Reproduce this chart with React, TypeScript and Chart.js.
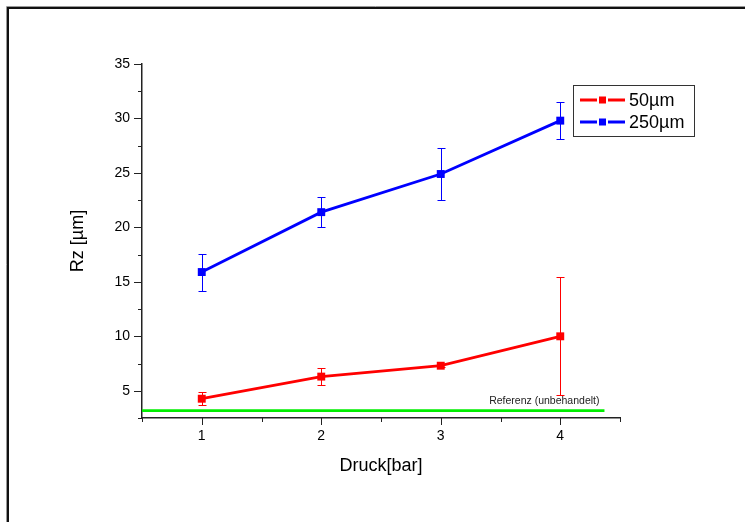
import React, { useEffect, useRef } from 'react';
import { Chart, registerables } from 'chart.js';

Chart.register(...registerables);

// ---- data ----
const pressure = [1, 2, 3, 4];
const rz50 = [4.27, 6.3, 7.3, 10.0];
const rz50Err = [0.6, 0.8, 0.15, 5.4];
const rz250 = [15.9, 21.4, 24.9, 29.8];
const rz250Err = [1.7, 1.4, 2.4, 1.7];
const seriesLabels = ['50µm', '250µm'];
const refLevel = 3.17;
const refX = [0.5, 4.37];
const refLabel = 'Referenz (unbehandelt)';
const xTitle = 'Druck[bar]';
const yTitle = 'Rz [µm]';

const RED = '#ff0000';
const BLUE = '#0000ff';
const GREEN = '#00ee00';
const FONT = "'Liberation Sans', Arial, Helvetica, sans-serif";

const errors = [rz50Err, rz250Err];

const decorPlugin = {
  id: 'decor',
  beforeDraw(chart: any) {
    const ctx = chart.ctx as CanvasRenderingContext2D;
    ctx.save();
    ctx.fillStyle = '#fff';
    ctx.fillRect(0, 0, chart.width, chart.height);
    // frame
    ctx.beginPath();
    ctx.strokeStyle = '#999';
    ctx.lineWidth = 1;
    ctx.moveTo(6.5, chart.height);
    ctx.lineTo(6.5, 6.5);
    ctx.lineTo(chart.width, 6.5);
    ctx.stroke();
    ctx.beginPath();
    ctx.strokeStyle = '#111';
    ctx.lineWidth = 2;
    ctx.moveTo(8, chart.height);
    ctx.lineTo(8, 8);
    ctx.lineTo(chart.width, 8);
    ctx.stroke();
    ctx.restore();
  },
  beforeDatasetsDraw(chart: any) {
    const ctx = chart.ctx as CanvasRenderingContext2D;
    const xs = chart.scales.x;
    const ys = chart.scales.y;
    ctx.save();
    ctx.lineWidth = 1;
    errors.forEach((errArr, di) => {
      const ds = chart.data.datasets[di];
      ctx.strokeStyle = ds.borderColor;
      ds.data.forEach((p: any, i: number) => {
        const px = Math.round(xs.getPixelForValue(p.x)) + 0.5;
        const top = Math.round(ys.getPixelForValue(p.y + errArr[i])) + 0.5;
        const bot = Math.round(ys.getPixelForValue(p.y - errArr[i])) + 0.5;
        ctx.beginPath();
        ctx.moveTo(px, top);
        ctx.lineTo(px, bot);
        ctx.moveTo(px - 4, top);
        ctx.lineTo(px + 4, top);
        ctx.moveTo(px - 4, bot);
        ctx.lineTo(px + 4, bot);
        ctx.stroke();
      });
    });
    ctx.restore();
  },
  afterDraw(chart: any) {
    const ctx = chart.ctx as CanvasRenderingContext2D;
    const xs = chart.scales.x;
    const ys = chart.scales.y;
    ctx.save();
    // tick marks
    ctx.strokeStyle = '#222';
    ctx.lineWidth = 1;
    ctx.beginPath();
    xs.ticks.forEach((t: any) => {
      const px = Math.round(xs.getPixelForValue(t.value)) + 0.5;
      const len = Number.isInteger(t.value) ? 7 : 4;
      ctx.moveTo(px, xs.top);
      ctx.lineTo(px, xs.top + len);
    });
    ys.ticks.forEach((t: any) => {
      const py = Math.round(ys.getPixelForValue(t.value)) + 0.5;
      const len = t.value % 5 === 0 ? 8 : 4;
      ctx.moveTo(ys.right, py);
      ctx.lineTo(ys.right - len, py);
    });
    ctx.stroke();

    // reference label
    ctx.fillStyle = '#222';
    ctx.font = `10.5px ${FONT}`;
    ctx.textAlign = 'right';
    ctx.textBaseline = 'middle';
    ctx.fillText(refLabel, xs.getPixelForValue(refX[1]) - 5, ys.getPixelForValue(refLevel) - 10);

    // legend
    const bx = 573.5, by = 85.5, bw = 121, bh = 51;
    ctx.fillStyle = '#fff';
    ctx.fillRect(bx, by, bw, bh);
    ctx.strokeStyle = '#333';
    ctx.lineWidth = 1;
    ctx.strokeRect(bx, by, bw, bh);
    ctx.font = `18px ${FONT}`;
    ctx.textAlign = 'left';
    ctx.textBaseline = 'middle';
    [0, 1].forEach((di) => {
      const ds = chart.data.datasets[di];
      const cy = 100 + di * 22;
      ctx.strokeStyle = ds.borderColor;
      ctx.lineWidth = 2.8;
      ctx.beginPath();
      ctx.moveTo(580, cy);
      ctx.lineTo(597, cy);
      ctx.moveTo(608, cy);
      ctx.lineTo(625, cy);
      ctx.stroke();
      ctx.fillStyle = ds.borderColor;
      ctx.fillRect(599, cy - 3.5, 7, 7);
      ctx.fillStyle = '#000';
      ctx.fillText(ds.label, 629, cy + 1);
    });
    ctx.restore();
  },
};

export default function App() {
  const ref = useRef<HTMLCanvasElement>(null);
  useEffect(() => {
    const canvas = ref.current!;
    const mk = (vals: number[]) => pressure.map((x, i) => ({ x, y: vals[i] }));
    const chart = new Chart(canvas, {
      type: 'line',
      data: {
        datasets: [
          {
            label: seriesLabels[0],
            data: mk(rz50),
            borderColor: RED,
            backgroundColor: RED,
            borderWidth: 2.8,
            pointStyle: 'rect',
            pointRadius: 5.6,
            pointBorderWidth: 0,
            tension: 0,
          },
          {
            label: seriesLabels[1],
            data: mk(rz250),
            borderColor: BLUE,
            backgroundColor: BLUE,
            borderWidth: 2.8,
            pointStyle: 'rect',
            pointRadius: 5.6,
            pointBorderWidth: 0,
            tension: 0,
          },
          {
            label: refLabel,
            data: refX.map((x) => ({ x, y: refLevel })),
            borderColor: GREEN,
            backgroundColor: GREEN,
            borderWidth: 2.8,
            pointRadius: 0,
            tension: 0,
          },
        ],
      } as any,
      options: {
        responsive: false,
        animation: false,
        devicePixelRatio: 1,
        layout: { padding: { left: 0, top: 64, right: 125, bottom: 0 } },
        plugins: { legend: { display: false }, tooltip: { enabled: false } },
        scales: {
          x: {
            type: 'linear',
            min: 0.5,
            max: 4.5,
            afterFit: (s: any) => {
              s.height = 104;
            },
            ticks: {
              stepSize: 0.5,
              autoSkip: false,
              maxRotation: 0,
              callback: (v: any) => (Number.isInteger(v) ? String(v) : ''),
              color: '#000',
              font: { family: FONT, size: 14 },
              padding: 10,
            },
            grid: { display: false, drawTicks: false },
            border: { display: true, color: '#222', width: 1.5 },
            title: {
              display: true,
              text: xTitle,
              color: '#000',
              font: { family: FONT, size: 18 },
              padding: { top: 0, bottom: 45 },
            },
          },
          y: {
            type: 'linear',
            min: 2.5,
            max: 35,
            afterFit: (s: any) => {
              s.width = 142;
            },
            ticks: {
              stepSize: 2.5,
              autoSkip: false,
              callback: (v: any) => (v % 5 === 0 ? String(v) : ''),
              color: '#000',
              font: { family: FONT, size: 14 },
              padding: 12,
            },
            grid: { display: false, drawTicks: false },
            border: { display: true, color: '#222', width: 1.5 },
            title: {
              display: true,
              text: yTitle,
              color: '#000',
              font: { family: FONT, size: 18 },
              padding: { top: 67, bottom: 0 },
            },
          },
        },
      } as any,
      plugins: [decorPlugin],
    });
    return () => chart.destroy();
  }, []);

  return (
    <div style={{ position: 'fixed', left: 0, top: 0, width: 745, height: 522, background: '#fff' }}>
      <canvas ref={ref} width={745} height={522} style={{ display: 'block' }} />
    </div>
  );
}
